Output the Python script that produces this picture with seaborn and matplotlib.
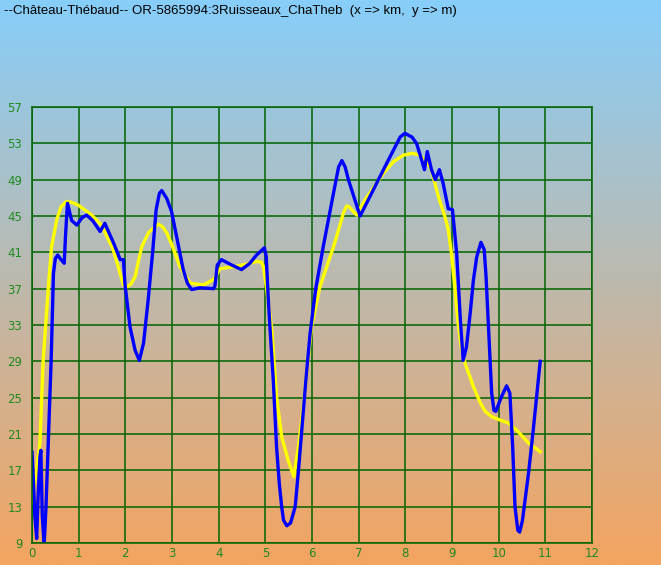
import numpy as np
import pandas as pd
import matplotlib
matplotlib.use("Agg")
import matplotlib.pyplot as plt
import seaborn as sns

title = "--Château-Thébaud-- OR-5865994:3Ruisseaux_ChaTheb  (x => km,  y => m)"

# raw profile (blue)
raw_km = [0.0, 0.03, 0.06, 0.1, 0.13, 0.17, 0.19, 0.22, 0.26, 0.3, 0.35, 0.41,
          0.46, 0.5, 0.55, 0.62, 0.69, 0.72, 0.76, 0.85, 0.96, 1.07, 1.17, 1.3,
          1.46, 1.56, 1.75, 1.89, 1.96, 1.99, 2.1, 2.21, 2.3, 2.39, 2.49, 2.59,
          2.66, 2.73, 2.78, 2.89, 2.99, 3.1, 3.24, 3.33, 3.42, 3.6, 3.89, 3.92,
          3.97, 4.06, 4.28, 4.49, 4.67, 4.81, 4.98, 5.02, 5.06, 5.12, 5.17, 5.24,
          5.3, 5.35, 5.39, 5.46, 5.54, 5.64, 5.71, 5.78, 5.87, 5.96, 6.08, 6.24,
          6.46, 6.57, 6.64, 6.71, 6.78, 7.03, 7.67, 7.89, 7.99, 8.14, 8.24, 8.33,
          8.41, 8.47, 8.56, 8.64, 8.73, 8.81, 8.92, 9.01, 9.1, 9.18, 9.24, 9.31,
          9.39, 9.46, 9.53, 9.62, 9.69, 9.73, 9.85, 9.9, 9.94, 10.06, 10.17,
          10.24, 10.3, 10.35, 10.41, 10.45, 10.51, 10.64, 10.74, 10.89]
raw_alt = [19.0, 16.0, 12.0, 9.5, 14.0, 18.5, 19.2, 12.0, 8.8, 13.0, 20.3, 29.1,
           38.7, 40.3, 40.7, 40.2, 39.8, 43.0, 46.4, 44.5, 44.0, 44.8, 45.1, 44.5,
           43.3, 44.2, 42.0, 40.2, 40.2, 37.6, 32.8, 30.2, 29.1, 31.0, 35.8, 41.3,
           45.7, 47.5, 47.8, 46.9, 45.5, 42.7, 39.1, 37.6, 36.9, 37.1, 37.0, 37.3,
           39.6, 40.2, 39.6, 39.1, 39.8, 40.7, 41.5, 40.5, 36.1, 31.0, 27.0, 19.6,
           15.5, 13.0, 11.5, 10.9, 11.2, 13.0, 17.0, 21.4, 27.0, 32.1, 37.0, 41.6,
           47.5, 50.4, 51.1, 50.4, 49.0, 45.0, 51.5, 53.7, 54.1, 53.7, 53.0, 51.5,
           50.1, 52.1, 50.1, 49.0, 50.1, 48.6, 45.8, 45.7, 40.9, 33.5, 29.1, 30.6,
           34.3, 38.0, 40.5, 42.1, 41.3, 38.3, 25.5, 23.6, 23.5, 25.1, 26.3,
           25.5, 19.6, 13.0, 10.4, 10.2, 11.5, 16.7, 21.4, 29.0]

# smoothed profile (yellow)
smooth_km = [0.0, 0.08, 0.17, 0.24, 0.35, 0.42, 0.53, 0.62, 0.74, 0.85, 0.99,
             1.15, 1.28, 1.49, 1.74, 1.96, 2.03, 2.12, 2.21, 2.28, 2.35, 2.5,
             2.71, 2.8, 2.89, 3.0, 3.17, 3.39, 3.67, 3.89, 4.03, 4.31, 4.6, 4.81,
             4.92, 4.96, 5.03, 5.14, 5.24, 5.35, 5.49, 5.61, 5.72, 5.85, 5.99,
             6.17, 6.46, 6.6, 6.67, 6.74, 6.8, 6.9, 6.96, 7.05, 7.14, 7.53, 7.75,
             7.96, 8.15, 8.31, 8.45, 8.53, 8.6, 8.71, 8.85, 8.92, 8.99, 9.06,
             9.13, 9.2, 9.28, 9.46, 9.6, 9.71, 9.85, 10.0, 10.21, 10.39, 10.64,
             10.89]
smooth_alt = [13.4, 16.5, 20.0, 29.1, 37.2, 41.6, 44.6, 46.0, 46.6, 46.5, 46.2,
              45.6, 45.1, 44.0, 41.3, 37.4, 37.2, 37.5, 38.3, 40.0, 41.6, 43.2,
              44.1, 43.8, 43.1, 41.8, 39.4, 37.6, 37.4, 38.0, 39.2, 39.4, 39.7,
              40.0, 39.9, 39.4, 36.9, 32.4, 25.1, 20.7, 18.1, 16.3, 20.0, 25.8,
              32.8, 37.2, 41.6, 44.0, 45.3, 46.1, 46.0, 45.4, 45.1, 46.0, 46.8,
              49.7, 51.0, 51.7, 51.9, 51.7, 51.0, 50.4, 49.3, 47.1, 44.9, 43.5,
              40.8, 37.2, 33.2, 30.5, 28.8, 26.2, 24.5, 23.5, 22.9, 22.6, 22.2,
              21.4, 20.0, 19.05]

x_ticks = list(range(0, 13))
y_ticks = list(range(9, 58, 4))

raw = pd.DataFrame({"km": raw_km, "m": raw_alt})
smooth = pd.DataFrame({"km": smooth_km, "m": smooth_alt})

fig = plt.figure(figsize=(6.61, 5.65), dpi=100)

# gradient background over the whole figure
bg = fig.add_axes([0, 0, 1, 1], zorder=0)
top = np.array([135, 206, 250]) / 255
bottom = np.array([244, 164, 96]) / 255
t = np.linspace(0, 1, 256)[:, None]
grad = (top * (1 - t) + bottom * t)[:, None, :]
bg.imshow(grad, aspect="auto", extent=[0, 1, 0, 1])
bg.axis("off")

ax = fig.add_axes([32 / 661, 1 - 543 / 565, 560 / 661, 436 / 565], zorder=1)
ax.set_facecolor("none")

sns.lineplot(data=smooth, x="km", y="m", color="#ffff00", linewidth=2.4,
             estimator=None, sort=False, ax=ax)
sns.lineplot(data=raw, x="km", y="m", color="#0000ff", linewidth=2.4,
             estimator=None, sort=False, ax=ax)

ax.set_xlim(0, 12)
ax.set_ylim(9, 57)
ax.set_xticks(x_ticks)
ax.set_yticks(y_ticks)
ax.grid(True, color="#006400", linewidth=1.1, zorder=0)
ax.set_axisbelow(True)
for s in ax.spines.values():
    s.set_color("#006400")
    s.set_linewidth(1.1)
ax.tick_params(length=0, labelsize=8.5, labelcolor="#1f8a1f")
ax.tick_params(axis="y", pad=7)
ax.tick_params(axis="x", pad=3)
ax.set_xlabel("")
ax.set_ylabel("")

fig.text(4 / 661, 1 - 11 / 565, title, fontsize=9.5, family="Liberation Sans",
         color="black", va="center", ha="left")

fig.savefig("out.png", dpi=100)
